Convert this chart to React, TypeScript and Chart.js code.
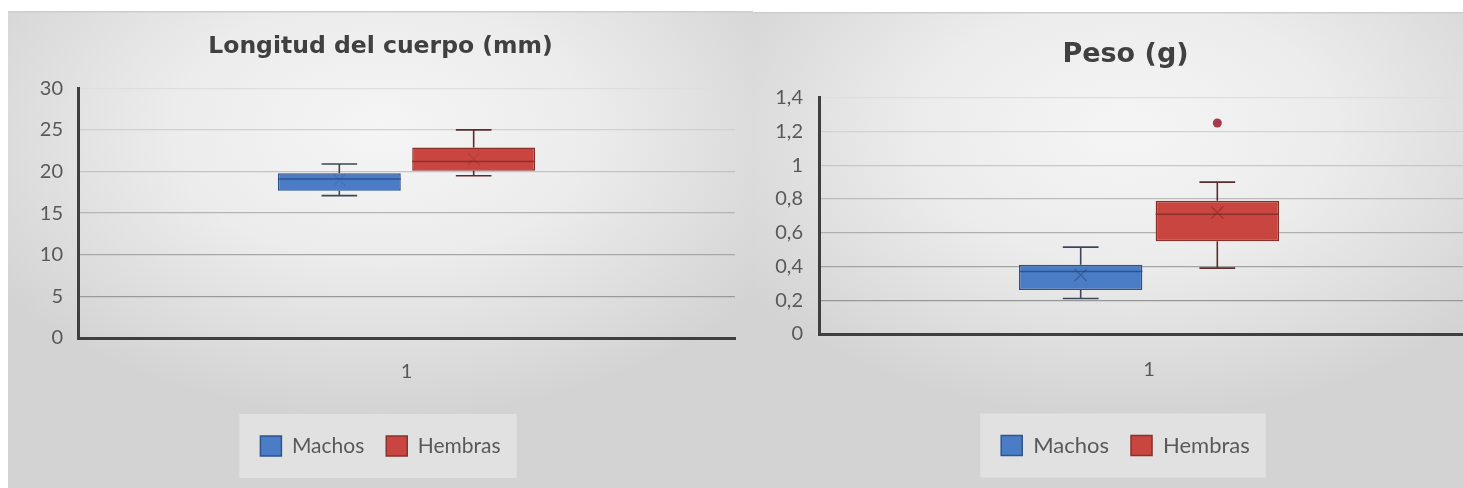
import React, { useEffect, useRef } from 'react';
import { Chart, registerables } from 'chart.js';

Chart.register(...registerables);

// ---- data ----
const categories = ['1'];
const seriesNames = ['Machos', 'Hembras'];

// Longitud del cuerpo (mm)
const longMin = [17.1, 19.5];
const longQ1 = [17.7, 20.1];
const longMedian = [19.1, 21.2];
const longQ3 = [19.8, 22.9];
const longMax = [20.9, 25.0];
const longMean = [19.0, 21.5];
const longOutliers: number[][] = [[], []];
const longTickLabels = ['0', '5', '10', '15', '20', '25', '30'];

// Peso (g)
const pesoMin = [0.21, 0.39];
const pesoQ1 = [0.26, 0.55];
const pesoMedian = [0.37, 0.71];
const pesoQ3 = [0.41, 0.79];
const pesoMax = [0.515, 0.9];
const pesoMean = [0.35, 0.72];
const pesoOutliers: number[][] = [[], [1.25]];
const pesoTickLabels = ['0', '0,2', '0,4', '0,6', '0,8', '1', '1,2', '1,4'];

// ---- styles ----
const fillColors = ['#4a7dc6', '#c8463f'];
const edgeColors = ['#2f5391', '#8d2f2b'];
const whiskerColors = ['#3d4658', '#5c2d2d'];
const meanRgb = ['40,70,130', '130,35,35'];
const outlierColor = '#a53a4b';

Chart.defaults.font.family = 'Lato, "Noto Sans", sans-serif';

type BoxStats = {
  min: number[];
  q1: number[];
  median: number[];
  q3: number[];
  max: number[];
  mean: number[];
  outliers: number[][];
};

type PanelLayout = {
  title: string;
  titleSize: number;
  yMax: number;
  yStep: number;
  tickLabels: string[];
  stats: BoxStats;
  width: number;
  height: number;
  yAxisWidth: number;
  xAxisHeight: number;
  padRight: number;
  padBottom: number;
  titlePadTop: number;
  titlePadBottom: number;
  tickPadY: number;
  tickPadX: number;
  categoryPercentage: number;
  barPercentage: number;
  legendFont: number;
  meanAlpha: number;
};

// title and legend are centred on the whole panel, not on the plot width
const centerBlocks = {
  id: 'centerBlocks',
  afterLayout(chart: any) {
    const w = chart.width;
    [chart.titleBlock, chart.legend].forEach((b: any) => {
      if (!b) return;
      b.left = 0;
      b.right = w;
      b.width = w;
    });
  },
};

// Excel-like soft radial background and the translucent legend plate
const panelBackground = {
  id: 'panelBackground',
  beforeDraw(chart: any) {
    const { ctx, width, height } = chart;
    ctx.save();
    const cx = width * 0.5;
    const cy = height * 0.25;
    const sy = 0.62;
    ctx.translate(cx, cy);
    ctx.scale(1, sy);
    const g = ctx.createRadialGradient(0, 0, 0, 0, 0, width * 0.62);
    g.addColorStop(0, '#f5f5f5');
    g.addColorStop(0.45, '#ececec');
    g.addColorStop(1, '#d3d3d3');
    ctx.fillStyle = g;
    ctx.fillRect(-cx, -cy / sy, width, height / sy);
    ctx.restore();

    ctx.save();
    ctx.fillStyle = '#cdcdcd';
    ctx.fillRect(0, 0, width, 1.5);
    ctx.restore();

    const legend = chart.legend;
    const boxes = legend && legend.legendHitBoxes;
    if (boxes && boxes.length) {
      let left = Infinity;
      let right = -Infinity;
      let mid = 0;
      boxes.forEach((b: any) => {
        left = Math.min(left, b.left);
        right = Math.max(right, b.left + b.width);
        mid = b.top + b.height / 2;
      });
      ctx.save();
      ctx.fillStyle = 'rgba(255,255,255,0.32)';
      ctx.fillRect(left - 21, mid - 32, right - left + 37, 64);
      ctx.restore();
    }
  },
};

// whiskers, medians, means and outliers on top of the floating bars
const boxDecorations = {
  id: 'boxDecorations',
  afterDatasetsDraw(chart: any, _args: any, opts: any) {
    const stats: BoxStats = opts.stats;
    if (!stats) return;
    const { ctx } = chart;
    const y = chart.scales.y;
    chart.data.datasets.forEach((_ds: any, i: number) => {
      const meta = chart.getDatasetMeta(i);
      const bar = meta.data[0];
      if (!bar) return;
      const x = bar.x;
      const w = bar.width;
      const cap = w * 0.29;
      const yMin = y.getPixelForValue(stats.min[i]);
      const yQ1 = y.getPixelForValue(stats.q1[i]);
      const yMed = y.getPixelForValue(stats.median[i]);
      const yQ3 = y.getPixelForValue(stats.q3[i]);
      const yMax = y.getPixelForValue(stats.max[i]);
      ctx.save();
      ctx.lineWidth = 1.6;
      ctx.strokeStyle = whiskerColors[i];
      ctx.beginPath();
      ctx.moveTo(x, yQ3);
      ctx.lineTo(x, yMax);
      ctx.moveTo(x - cap / 2, yMax);
      ctx.lineTo(x + cap / 2, yMax);
      ctx.moveTo(x, yQ1);
      ctx.lineTo(x, yMin);
      ctx.moveTo(x - cap / 2, yMin);
      ctx.lineTo(x + cap / 2, yMin);
      ctx.stroke();

      ctx.strokeStyle = edgeColors[i];
      ctx.lineWidth = 1.5;
      ctx.beginPath();
      ctx.moveTo(x - w / 2, yMed);
      ctx.lineTo(x + w / 2, yMed);
      ctx.stroke();

      const yMean = y.getPixelForValue(stats.mean[i]);
      const s = 6;
      ctx.strokeStyle = `rgba(${meanRgb[i]},${opts.meanAlpha})`;
      ctx.lineWidth = 1.5;
      ctx.beginPath();
      ctx.moveTo(x - s, yMean - s);
      ctx.lineTo(x + s, yMean + s);
      ctx.moveTo(x - s, yMean + s);
      ctx.lineTo(x + s, yMean - s);
      ctx.stroke();

      ctx.fillStyle = outlierColor;
      stats.outliers[i].forEach((v) => {
        ctx.beginPath();
        ctx.arc(x, y.getPixelForValue(v), 4.5, 0, Math.PI * 2);
        ctx.fill();
      });
      ctx.restore();
    });
  },
};

function gridShade(index: number, count: number): string {
  const t = count > 1 ? index / (count - 1) : 0;
  const v = Math.round(140 + (222 - 140) * t);
  return `rgb(${v},${v},${v})`;
}

function BoxPanel({ cfg, style }: { cfg: PanelLayout; style: React.CSSProperties }) {
  const ref = useRef<HTMLCanvasElement | null>(null);

  useEffect(() => {
    if (!ref.current) return;
    const st = cfg.stats;
    const chart = new Chart(ref.current, {
      type: 'bar',
      data: {
        labels: categories,
        datasets: seriesNames.map((name, i) => ({
          label: name,
          data: [[st.q1[i], st.q3[i]]] as any,
          backgroundColor: fillColors[i],
          borderColor: edgeColors[i],
          borderWidth: 1.5,
          borderSkipped: false,
          categoryPercentage: cfg.categoryPercentage,
          barPercentage: cfg.barPercentage,
        })),
      },
      options: {
        responsive: false,
        animation: false,
        events: [],
        layout: {
          padding: { left: 0, top: 0, right: cfg.padRight, bottom: cfg.padBottom },
        },
        scales: {
          x: {
            type: 'category',
            grid: { display: false, drawTicks: false },
            border: { display: true, color: '#3f3f3f', width: 3 },
            ticks: {
              color: '#595959',
              font: { size: 20 },
              padding: cfg.tickPadX,
            },
            afterFit: (scale: any) => {
              scale.height = cfg.xAxisHeight;
            },
          },
          y: {
            min: 0,
            max: cfg.yMax,
            grid: {
              drawTicks: false,
              lineWidth: 1.3,
              color: (c: any) => gridShade(c.index, cfg.tickLabels.length),
            },
            border: { display: true, color: '#3f3f3f', width: 3 },
            ticks: {
              stepSize: cfg.yStep,
              color: '#595959',
              font: { size: 20 },
              padding: cfg.tickPadY,
              callback: (_v: any, i: number) => cfg.tickLabels[i],
            },
            afterFit: (scale: any) => {
              scale.width = cfg.yAxisWidth;
            },
          },
        },
        plugins: {
          title: {
            display: true,
            text: cfg.title,
            color: '#404040',
            font: { family: '"DejaVu Sans", sans-serif', size: cfg.titleSize, weight: 'bold' },
            padding: { top: cfg.titlePadTop, bottom: cfg.titlePadBottom },
          },
          legend: {
            display: true,
            position: 'bottom',
            labels: {
              color: '#595959',
              font: { size: cfg.legendFont },
              boxWidth: 21,
              boxHeight: 20,
              padding: 22,
            },
          },
          tooltip: { enabled: false },
          boxDecorations: { stats: st, meanAlpha: cfg.meanAlpha },
        } as any,
      },
      plugins: [centerBlocks, panelBackground, boxDecorations],
    });
    return () => chart.destroy();
  }, [cfg]);

  return (
    <canvas
      ref={ref}
      width={cfg.width}
      height={cfg.height}
      style={{ position: 'absolute', width: cfg.width, height: cfg.height, ...style }}
    />
  );
}

const longitudPanel: PanelLayout = {
  title: 'Longitud del cuerpo (mm)',
  titleSize: 23.5,
  yMax: 30,
  yStep: 5,
  tickLabels: longTickLabels,
  stats: {
    min: longMin,
    q1: longQ1,
    median: longMedian,
    q3: longQ3,
    max: longMax,
    mean: longMean,
    outliers: longOutliers,
  },
  width: 745,
  height: 477,
  yAxisWidth: 70,
  xAxisHeight: 75.5,
  padRight: 18,
  padBottom: 21.5,
  titlePadTop: 21.9,
  titlePadBottom: 27.2,
  tickPadY: 15,
  tickPadX: 22,
  categoryPercentage: 0.409,
  barPercentage: 0.915,
  legendFont: 21,
  meanAlpha: 0.18,
};

const pesoPanel: PanelLayout = {
  title: 'Peso (g)',
  titleSize: 27,
  yMax: 1.4,
  yStep: 0.2,
  tickLabels: pesoTickLabels,
  stats: {
    min: pesoMin,
    q1: pesoQ1,
    median: pesoMedian,
    q3: pesoQ3,
    max: pesoMax,
    mean: pesoMean,
    outliers: pesoOutliers,
  },
  width: 745,
  height: 476,
  yAxisWidth: 66,
  xAxisHeight: 78.5,
  padRight: 19,
  padBottom: 21.5,
  titlePadTop: 26.8,
  titlePadBottom: 26.5,
  tickPadY: 16,
  tickPadX: 24,
  categoryPercentage: 0.414,
  barPercentage: 0.903,
  legendFont: 22,
  meanAlpha: 0.5,
};

export default function App() {
  return (
    <div
      style={{
        position: 'fixed',
        left: 0,
        top: 0,
        width: 1463,
        height: 488,
        overflow: 'hidden',
        background: '#ffffff',
      }}
    >
      <BoxPanel cfg={longitudPanel} style={{ left: 8, top: 11 }} />
      <BoxPanel cfg={pesoPanel} style={{ left: 753, top: 12 }} />
    </div>
  );
}
